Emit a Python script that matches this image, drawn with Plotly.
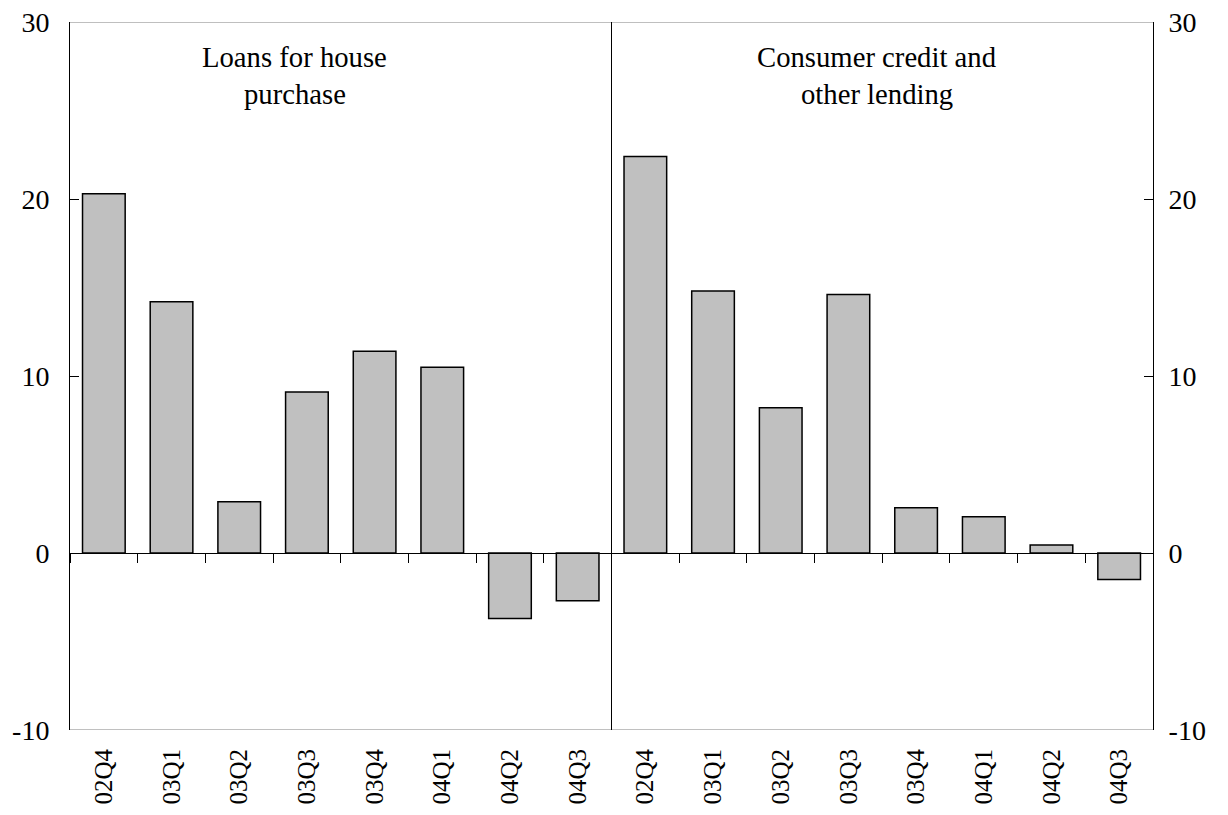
import plotly.graph_objects as go

categories = ["02Q4", "03Q1", "03Q2", "03Q3", "03Q4", "04Q1", "04Q2", "04Q3",
              "02Q4", "03Q1", "03Q2", "03Q3", "03Q4", "04Q1", "04Q2", "04Q3"]
house_values = [20.3, 14.2, 2.9, 9.1, 11.4, 10.5, -3.7, -2.7]
consumer_values = [22.4, 14.8, 8.2, 14.6, 2.55, 2.05, 0.45, -1.5]
panel_titles = [["Loans for house", "purchase"], ["Consumer credit and", "other lending"]]
y_ticks = [-10, 0, 10, 20, 30]
y_tick_labels = ["-10", "0", "10", "20", "30"]

values = house_values + consumer_values
xpos = list(range(len(categories)))
FONT = "Liberation Serif, Times New Roman, serif"

fig = go.Figure()
fig.add_trace(go.Bar(x=xpos, y=values, marker=dict(color="#c0c0c0", line=dict(color="black", width=1.5)),
                     width=0.63, showlegend=False))
fig.add_trace(go.Scatter(x=[0], y=[0], yaxis="y2", mode="markers", marker=dict(opacity=0), showlegend=False,
                         hoverinfo="skip"))
fig.add_trace(go.Scatter(x=[0], y=[0], xaxis="x2", mode="markers", marker=dict(opacity=0), showlegend=False,
                         hoverinfo="skip"))

fig.update_layout(
    width=1220, height=807,
    margin=dict(l=62, r=75, t=14, b=85, autoexpand=False),
    paper_bgcolor="white", plot_bgcolor="white",
    font=dict(family=FONT, size=28, color="black"),
    xaxis=dict(range=[-0.5, 15.5], tickvals=xpos, ticktext=categories, tickangle=-90,
               tickfont=dict(size=25), automargin=False,
               showgrid=False, zeroline=False, showline=False, ticks="", ticklabelstandoff=13),
    xaxis2=dict(range=[-0.5, 15.5], overlaying="x", anchor="free", position=0.25, automargin=False,
                tickvals=[i - 0.5 for i in range(len(categories) + 1)], showticklabels=False,
                ticks="outside", ticklen=9, tickcolor="black", tickwidth=1,
                showline=True, linecolor="black", linewidth=1.2, showgrid=False, zeroline=False),
    yaxis=dict(range=[-10, 30], tickvals=y_ticks, ticktext=y_tick_labels, showgrid=False, zeroline=False,
               showline=True, linecolor="black", linewidth=1, ticks="inside", ticklen=9, automargin=False,
               tickcolor="black", ticklabelstandoff=14, ticklabeloverflow="allow"),
    yaxis2=dict(range=[-10, 30], tickvals=y_ticks, ticktext=y_tick_labels, overlaying="y", side="right",
                showgrid=False, zeroline=False, showline=True, linecolor="black", linewidth=1,
                automargin=False, ticklabeloverflow="allow",
                ticks="inside", ticklen=9, tickcolor="black", ticklabelstandoff=9),
    bargap=0.37,
)

fig.add_shape(type="line", xref="paper", yref="y", x0=0, x1=1, y0=30, y1=30, line=dict(color="#808080", width=1))
fig.add_shape(type="line", xref="paper", yref="y", x0=0, x1=1, y0=-10, y1=-10, line=dict(color="#808080", width=1))
fig.add_shape(type="line", xref="x", yref="y", x0=7.5, x1=7.5, y0=-10, y1=30, line=dict(color="black", width=1))

centers = [2.82, 11.42]
for c, lines in zip(centers, panel_titles):
    for k, t in enumerate(lines):
        fig.add_annotation(x=c, y=[28.0, 25.96][k], xref="x", yref="y", text=t, showarrow=False,
                           font=dict(family=FONT, size=28.7, color="black"))

fig.write_html("out.html")
